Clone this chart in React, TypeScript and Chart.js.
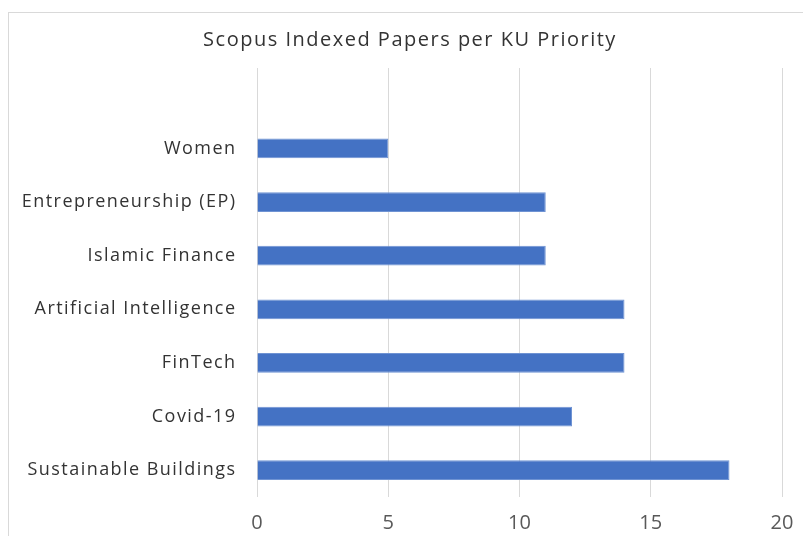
import React, { useEffect, useRef } from "react";
import { Chart, registerables } from "chart.js";

Chart.register(...registerables);

const chartTitle = "Scopus Indexed Papers per KU Priority";
const categories = [
  "",
  "Women",
  "Entrepreneurship (EP)",
  "Islamic Finance",
  "Artificial Intelligence",
  "FinTech",
  "Covid-19",
  "Sustainable Buildings",
];
const papers: (number | null)[] = [null, 5, 11, 11, 14, 14, 12, 18];
const xTicks = [0, 5, 10, 15, 20];

const FONT = "'Open Sans', sans-serif";

export default function App() {
  const ref = useRef<HTMLCanvasElement | null>(null);

  useEffect(() => {
    if (!ref.current) return;
    const textPlugin = {
      id: "customText",
      afterDraw(chart: any) {
        const ctx = chart.ctx;
        ctx.save();
        ctx.font = `20px ${FONT}`;
        ctx.fillStyle = "#333333";
        ctx.textAlign = "center";
        ctx.textBaseline = "middle";
        (ctx as any).letterSpacing = "1.5px";
        ctx.fillText(chartTitle, 410, 40);
        ctx.font = `18px ${FONT}`;
        ctx.textAlign = "right";
        (ctx as any).letterSpacing = "1.45px";
        const yScale = chart.scales.y;
        categories.forEach((label, i) => {
          if (!label) return;
          ctx.fillText(label, 236.5, yScale.getPixelForValue(i));
        });
        ctx.restore();
      },
    };
    const chart = new Chart(ref.current, {
      type: "bar",
      data: {
        labels: categories,
        datasets: [
          {
            data: papers,
            backgroundColor: "#4472C4",
            borderColor: "#6F93D3",
            borderWidth: 1,
            categoryPercentage: 1,
            barPercentage: 0.37,
          },
        ],
      },
      options: {
        indexAxis: "y",
        animation: false,
        responsive: false,
        maintainAspectRatio: false,
        layout: { padding: { top: 68, right: 21, bottom: 0, left: 0 } },
        plugins: {
          legend: { display: false },
          title: { display: false },
          tooltip: { enabled: false },
        },
        scales: {
          x: {
            min: 0,
            max: 20,
            afterBuildTicks(scale: any) {
              scale.ticks = xTicks.map((v) => ({ value: v }));
            },
            afterFit(scale: any) {
              scale.height = 39;
              scale.paddingLeft = 0;
              scale.paddingRight = 0;
            },
            grid: { color: "#d9d9d9", drawTicks: false, lineWidth: 1 },
            border: { display: false },
            ticks: {
              padding: 14,
              color: "#595959",
              font: { family: FONT, size: 20 },
            },
          },
          y: {
            afterFit(scale: any) {
              scale.width = 257;
              scale.paddingTop = 0;
              scale.paddingBottom = 0;
            },
            grid: { display: false, drawTicks: false },
            border: { display: false },
            ticks: { display: false, autoSkip: false },
          },
        },
      },
      plugins: [textPlugin],
    });
    return () => chart.destroy();
  }, []);

  return (
    <div
      style={{
        position: "fixed",
        left: 0,
        top: 0,
        width: 803,
        height: 536,
        overflow: "hidden",
        background: "#fff",
      }}
    >
      <div
        style={{
          position: "absolute",
          left: 8,
          top: 12,
          width: 900,
          height: 700,
          border: "1px solid #d9d9d9",
        }}
      />
      <canvas
        ref={ref}
        width={803}
        height={536}
        style={{ position: "absolute", left: 0, top: 0, width: 803, height: 536 }}
      />
    </div>
  );
}
